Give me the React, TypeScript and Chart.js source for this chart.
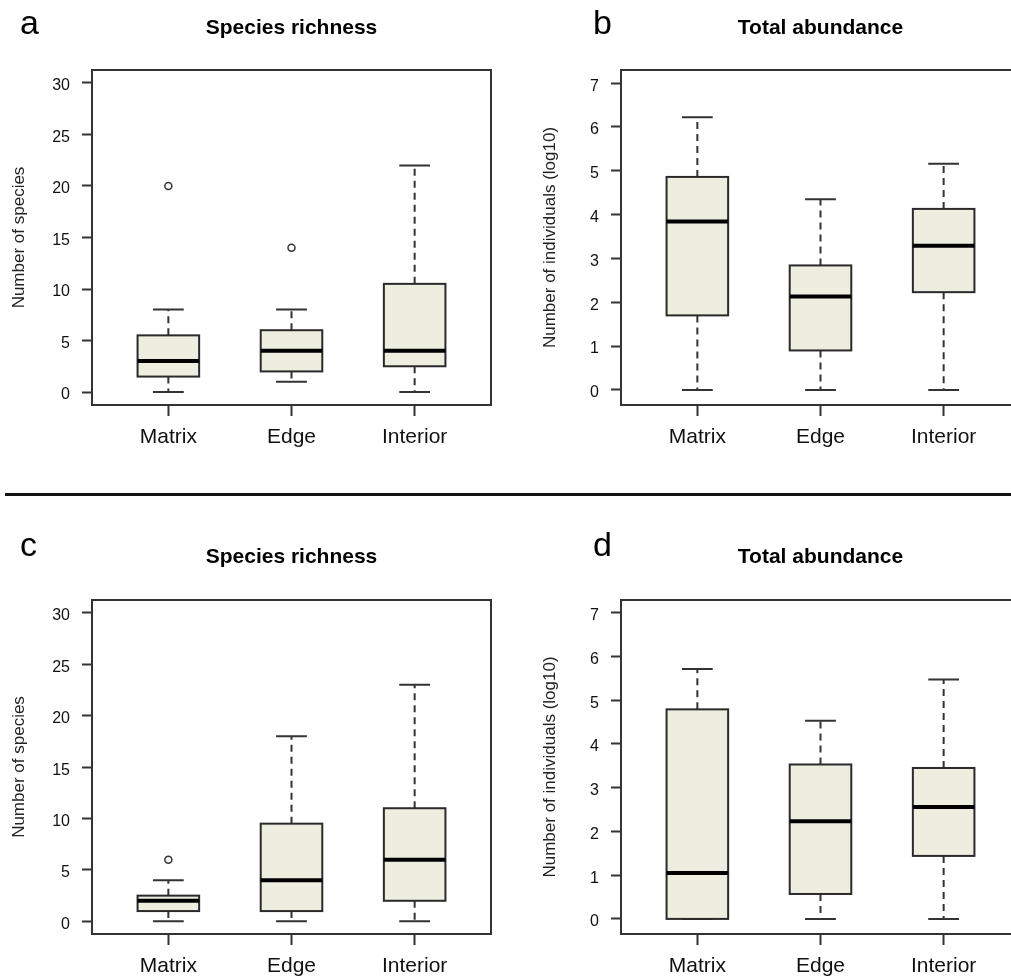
import React, { useEffect, useRef } from "react";
import { Chart, registerables } from "chart.js";

Chart.register(...registerables);

const FONT = '"Liberation Sans", Arial, Helvetica, sans-serif';
Chart.defaults.font.family = FONT;

const habitats = ["Matrix", "Edge", "Interior"];
const habitatPositions = [1, 2, 3];

const richnessTicks = [0, 5, 10, 15, 20, 25, 30];
const abundanceTicks = [0, 1, 2, 3, 4, 5, 6, 7];

// a: species richness, first survey — [Matrix, Edge, Interior]
const richnessALower = [0, 1, 0];
const richnessAQ1 = [1.5, 2, 2.5];
const richnessAMedian = [3, 4, 4];
const richnessAQ3 = [5.5, 6, 10.5];
const richnessAUpper = [8, 8, 22];
const richnessAOutliers = [[20], [14], []];

// b: total abundance (log10), first survey
const abundanceBLower = [0, 0, 0];
const abundanceBQ1 = [1.7, 0.9, 2.23];
const abundanceBMedian = [3.84, 2.13, 3.29];
const abundanceBQ3 = [4.86, 2.84, 4.13];
const abundanceBUpper = [6.22, 4.35, 5.16];
const abundanceBOutliers = [[], [], []];

// c: species richness, second survey
const richnessCLower = [0, 0, 0];
const richnessCQ1 = [1, 1, 2];
const richnessCMedian = [2, 4, 6];
const richnessCQ3 = [2.5, 9.5, 11];
const richnessCUpper = [4, 18, 23];
const richnessCOutliers = [[6], [], []];

// d: total abundance (log10), second survey
const abundanceDLower = [0, 0, 0];
const abundanceDQ1 = [0, 0.57, 1.44];
const abundanceDMedian = [1.05, 2.23, 2.56];
const abundanceDQ3 = [4.79, 3.53, 3.45];
const abundanceDUpper = [5.71, 4.53, 5.47];
const abundanceDOutliers = [[], [], []];

type Stats = {
  lower: number[];
  q1: number[];
  median: number[];
  q3: number[];
  upper: number[];
  outliers: number[][];
};

type PanelProps = {
  title: string;
  yTitle: string;
  stats: Stats;
  ticks: number[];
  yMin: number;
  yMax: number;
  left: number;
  top: number;
  width: number;
  height: number;
  yAxisWidth: number;
  yTitleGap: number;
  titleGap: number;
  chartTop: number;
  padRight: number;
  padBottom: number;
};

const INK = "#333333";
const BOX_FILL = "#EDEDE0";
const BOX_WIDTH = 0.5; // in category units
const X_MIN = 0.38;
const X_MAX = 3.62;

function BoxPanel(p: PanelProps) {
  const ref = useRef<HTMLCanvasElement>(null);

  useEffect(() => {
    const canvas = ref.current;
    if (!canvas) return;
    const s = p.stats;

    const boxPlot = {
      id: "boxPlot",
      beforeDatasetsDraw(chart: any) {
        const { ctx, chartArea, scales } = chart;
        const x = scales.x;
        const y = scales.y;
        ctx.save();
        ctx.lineCap = "butt";
        for (let i = 0; i < s.median.length; i++) {
          const pos = habitatPositions[i];
          const cx = x.getPixelForValue(pos);
          const half = x.getPixelForValue(pos + BOX_WIDTH / 2) - cx;
          const capHalf = half / 2;
          const yLow = y.getPixelForValue(s.lower[i]);
          const yQ1 = y.getPixelForValue(s.q1[i]);
          const yMed = y.getPixelForValue(s.median[i]);
          const yQ3 = y.getPixelForValue(s.q3[i]);
          const yHigh = y.getPixelForValue(s.upper[i]);

          // whiskers
          ctx.strokeStyle = INK;
          ctx.lineWidth = 2;
          ctx.setLineDash([7, 5]);
          ctx.beginPath();
          ctx.moveTo(cx, yQ3);
          ctx.lineTo(cx, yHigh);
          ctx.moveTo(cx, yQ1);
          ctx.lineTo(cx, yLow);
          ctx.stroke();
          ctx.setLineDash([]);

          // staples
          ctx.beginPath();
          ctx.moveTo(cx - capHalf, yHigh);
          ctx.lineTo(cx + capHalf, yHigh);
          ctx.moveTo(cx - capHalf, yLow);
          ctx.lineTo(cx + capHalf, yLow);
          ctx.stroke();

          // box
          ctx.fillStyle = BOX_FILL;
          ctx.fillRect(cx - half, yQ3, 2 * half, yQ1 - yQ3);
          ctx.strokeStyle = "#2a2a2a";
          ctx.lineWidth = 2;
          ctx.strokeRect(cx - half, yQ3, 2 * half, yQ1 - yQ3);

          // median
          ctx.strokeStyle = "#000000";
          ctx.lineWidth = 4;
          ctx.beginPath();
          ctx.moveTo(cx - half, yMed);
          ctx.lineTo(cx + half, yMed);
          ctx.stroke();
        }
        ctx.restore();
      },
      afterDatasetsDraw(chart: any) {
        const { ctx, chartArea } = chart;
        ctx.save();
        ctx.strokeStyle = INK;
        ctx.lineWidth = 2;
        ctx.strokeRect(
          chartArea.left,
          chartArea.top,
          chartArea.right - chartArea.left,
          chartArea.bottom - chartArea.top
        );
        ctx.restore();
      },
    };

    const outlierPoints = s.outliers.flatMap((vals, i) =>
      vals.map((v) => ({ x: habitatPositions[i], y: v }))
    );

    const titleLine = 21 * 1.2;

    const chart = new Chart(canvas, {
      type: "scatter",
      data: {
        datasets: [
          {
            data: outlierPoints,
            pointRadius: 3.5,
            pointBorderWidth: 1.5,
            borderColor: INK,
            backgroundColor: "rgba(0,0,0,0)",
            pointStyle: "circle",
          },
        ],
      },
      options: {
        animation: false,
        responsive: false,
        maintainAspectRatio: false,
        events: [],
        layout: {
          padding: { left: 0, top: 0, right: p.padRight, bottom: p.padBottom },
        },
        plugins: {
          legend: { display: false },
          tooltip: { enabled: false },
          title: {
            display: true,
            text: p.title,
            fullSize: false,
            align: "center",
            color: "#000000",
            font: { size: 21, weight: "bold", family: FONT, lineHeight: 1.2 },
            padding: {
              top: p.titleGap,
              bottom: p.chartTop - p.titleGap - titleLine,
            },
          },
        },
        scales: {
          x: {
            type: "linear",
            min: X_MIN,
            max: X_MAX,
            afterBuildTicks: (axis: any) => {
              axis.ticks = habitatPositions.map((v) => ({ value: v }));
            },
            afterFit: (axis: any) => {
              axis.height = 44;
            },
            border: { display: false },
            grid: {
              display: true,
              drawOnChartArea: false,
              drawTicks: true,
              tickLength: 11,
              tickWidth: 2,
              tickColor: INK,
            },
            ticks: {
              autoSkip: false,
              maxRotation: 0,
              padding: 9,
              color: "#111111",
              font: { size: 21, family: FONT },
              callback: (_v: any, index: number) => habitats[index],
            },
          },
          y: {
            type: "linear",
            min: p.yMin,
            max: p.yMax,
            afterBuildTicks: (axis: any) => {
              axis.ticks = p.ticks.map((v) => ({ value: v }));
            },
            afterFit: (axis: any) => {
              axis.width = p.yAxisWidth;
            },
            border: { display: false },
            grid: {
              display: true,
              drawOnChartArea: false,
              drawTicks: true,
              tickLength: 10,
              tickWidth: 2,
              tickColor: INK,
            },
            ticks: {
              padding: 12,
              labelOffset: 3,
              color: "#111111",
              font: { size: 16, family: FONT },
            },
            title: {
              display: true,
              text: p.yTitle,
              color: "#222222",
              font: { size: 17, family: FONT, lineHeight: 1.2 },
              padding: { top: p.yTitleGap, bottom: 0 },
            },
          },
        },
      },
      plugins: [boxPlot],
    } as any);

    return () => chart.destroy();
  }, []);

  return (
    <canvas
      ref={ref}
      width={p.width}
      height={p.height}
      style={{
        position: "absolute",
        left: p.left,
        top: p.top,
        width: p.width,
        height: p.height,
      }}
    />
  );
}

const letterStyle = (left: number, top: number): React.CSSProperties => ({
  position: "absolute",
  left,
  top,
  fontFamily: FONT,
  fontSize: 34,
  lineHeight: "34px",
  color: "#000000",
});

export default function App() {
  const richnessA: Stats = {
    lower: richnessALower,
    q1: richnessAQ1,
    median: richnessAMedian,
    q3: richnessAQ3,
    upper: richnessAUpper,
    outliers: richnessAOutliers,
  };
  const abundanceB: Stats = {
    lower: abundanceBLower,
    q1: abundanceBQ1,
    median: abundanceBMedian,
    q3: abundanceBQ3,
    upper: abundanceBUpper,
    outliers: abundanceBOutliers,
  };
  const richnessC: Stats = {
    lower: richnessCLower,
    q1: richnessCQ1,
    median: richnessCMedian,
    q3: richnessCQ3,
    upper: richnessCUpper,
    outliers: richnessCOutliers,
  };
  const abundanceD: Stats = {
    lower: abundanceDLower,
    q1: abundanceDQ1,
    median: abundanceDMedian,
    q3: abundanceDQ3,
    upper: abundanceDUpper,
    outliers: abundanceDOutliers,
  };

  return (
    <div
      style={{
        position: "absolute",
        left: 0,
        top: 0,
        width: 1011,
        height: 978,
        overflow: "hidden",
        background: "#ffffff",
      }}
    >
      <BoxPanel
        title="Species richness"
        yTitle="Number of species"
        stats={richnessA}
        ticks={richnessTicks}
        yMin={-1.26}
        yMax={31.26}
        left={0}
        top={0}
        width={505}
        height={490}
        yAxisWidth={92}
        yTitleGap={9}
        titleGap={16}
        chartTop={70}
        padRight={14}
        padBottom={41}
      />
      <BoxPanel
        title="Total abundance"
        yTitle="Number of individuals (log10)"
        stats={abundanceB}
        ticks={abundanceTicks}
        yMin={-0.345}
        yMax={7.3}
        left={505}
        top={0}
        width={520}
        height={490}
        yAxisWidth={116}
        yTitleGap={35}
        titleGap={16}
        chartTop={70}
        padRight={5}
        padBottom={41}
      />
      <BoxPanel
        title="Species richness"
        yTitle="Number of species"
        stats={richnessC}
        ticks={richnessTicks}
        yMin={-1.23}
        yMax={31.25}
        left={0}
        top={520}
        width={505}
        height={458}
        yAxisWidth={92}
        yTitleGap={9}
        titleGap={25}
        chartTop={80}
        padRight={14}
        padBottom={0}
      />
      <BoxPanel
        title="Total abundance"
        yTitle="Number of individuals (log10)"
        stats={abundanceD}
        ticks={abundanceTicks}
        yMin={-0.345}
        yMax={7.29}
        left={505}
        top={520}
        width={520}
        height={458}
        yAxisWidth={116}
        yTitleGap={35}
        titleGap={25}
        chartTop={80}
        padRight={5}
        padBottom={0}
      />
      <div style={letterStyle(20, 5)}>a</div>
      <div style={letterStyle(593, 5)}>b</div>
      <div style={letterStyle(20, 527)}>c</div>
      <div style={letterStyle(593, 527)}>d</div>
      <div
        style={{
          position: "absolute",
          left: 5,
          top: 493,
          width: 1006,
          height: 3,
          background: "#111111",
        }}
      />
    </div>
  );
}
